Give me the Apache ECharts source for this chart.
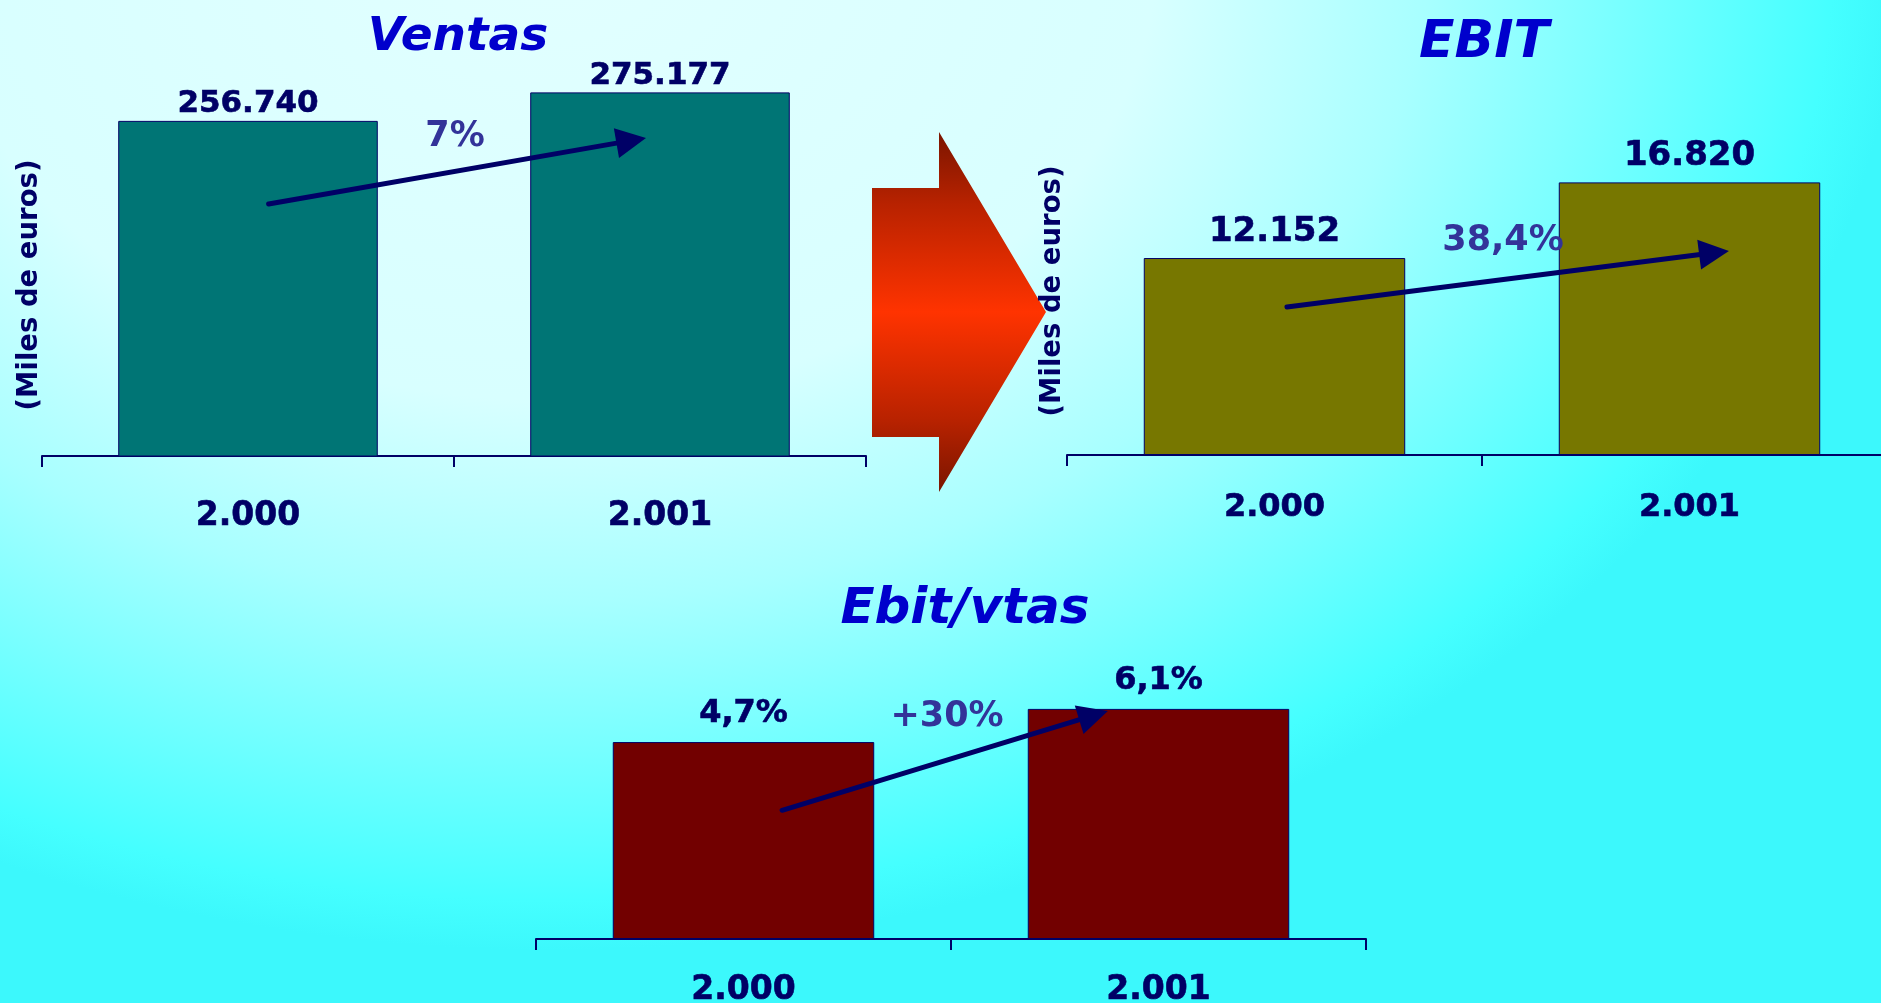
<!DOCTYPE html>
<html><head><meta charset="utf-8">
<script src="https://cdn.jsdelivr.net/npm/echarts@6/dist/echarts.min.js"></script>
<style>
html,body{margin:0;padding:0;width:1881px;height:1003px;overflow:hidden}
#c{width:1881px;height:1003px;background:radial-gradient(ellipse 1350px 1000px at 550px -50px, #E2FFFF 0%, #D8FFFF 45%, #A8FFFF 65%, #70FFFF 82%, #45FFFF 95%, #3CF8FC 100%);}
</style>
</head><body><div id="c"></div>
<script>
// ---- data ----
const categories = ['2.000', '2.001'];
const ventas = [256740, 275177];
const ebit = [12152, 16820];
const ebitVtas = [4.7, 6.1];
const titles = ['Ventas', 'EBIT', 'Ebit/vtas'];
const growthLabels = ['7%', '38,4%', '+30%'];
const yAxisName = '(Miles de euros)';

// ---- formatting / styling ----
const fmtThousands = v => String(v).replace(/\B(?=(\d{3})+(?!\d))/g, '.');
const fmtPct = v => v.toFixed(1).replace('.', ',') + '%';
const FONT = "'DejaVu Sans', Verdana, sans-serif";
const NAVY = '#000066';

const seriesData = [ventas, ebit, ebitVtas];
const formatters = [fmtThousands, fmtThousands, fmtPct];
const grids = [
  {left: 42, top: 54, width: 824, height: 402, outerBoundsMode: 'none', containLabel: false},
  {left: 1067, top: 66, width: 830, height: 389, outerBoundsMode: 'none', containLabel: false},
  {left: 536, top: 646, width: 830, height: 293, outerBoundsMode: 'none', containLabel: false}
];
const yAxes = [
  {type: 'value', min: 40000, max: 300000},
  {type: 'value', min: 0, max: 24000},
  {type: 'log', logBase: 10, min: 1, max: 10}
];
const barColors = ['#007575', '#777700', '#720000'];
const labelSizes = [31, 34, 32];
const labelDist = [1, 9, 12];
const catSizes = [33, 32, 33];
const catMargin = [44, 37, 35];
const titlePos = [[458, 14, 47], [1484, 17, 52], [965, 585, 50]];
const growthPos = [[455, 137], [1503, 241], [947, 717]];
// arrow endpoints: [offset in categories from first category, value on axis]
const arrowFrom = [[0.05, 203000], [0.03, 9130], [0.093, 2.75]];
const arrowTo = [[0.966, 245700], [1.095, 12590], [0.878, 6.0]];

const chart = echarts.init(document.getElementById('c'), null, {renderer: 'canvas'});

const option = {
  backgroundColor: 'transparent',
  animation: false,
  title: titles.map((t, i) => ({
    text: t, left: titlePos[i][0], top: titlePos[i][1], textAlign: 'center', padding: 0,
    textStyle: {color: '#0000CC', fontSize: titlePos[i][2], fontWeight: 'bold', fontStyle: 'italic', fontFamily: FONT}
  })),
  grid: grids,
  xAxis: grids.map((g, i) => ({
    type: 'category', gridIndex: i, data: categories,
    axisLine: {show: true, onZero: false, lineStyle: {color: NAVY, width: 2}},
    axisTick: {show: true, length: 11, lineStyle: {color: NAVY, width: 2}},
    axisLabel: {color: NAVY, fontSize: catSizes[i], fontWeight: 'bold', fontFamily: FONT, margin: catMargin[i],
      textBorderColor: NAVY, textBorderWidth: 0.6},
    splitLine: {show: false}
  })),
  yAxis: yAxes.map((y, i) => Object.assign({gridIndex: i, show: false}, y)),
  series: seriesData.map((d, i) => ({
    type: 'bar', xAxisIndex: i, yAxisIndex: i, data: d, barCategoryGap: '37%',
    itemStyle: {color: barColors[i], borderColor: NAVY, borderWidth: 1},
    label: {
      show: true, position: 'top', distance: labelDist[i], color: NAVY,
      fontSize: labelSizes[i], fontWeight: 'bold', fontFamily: FONT,
      textBorderColor: NAVY, textBorderWidth: 0.6,
      formatter: p => formatters[i](p.value)
    }
  }))
};
chart.setOption(option);

const graphics = [];
// big block arrow between the two top charts
graphics.push({
  type: 'polygon', z: 1,
  shape: {points: [[872, 188], [939, 188], [939, 132], [1046, 312], [939, 492], [939, 437], [872, 437]]},
  style: {fill: {type: 'linear', x: 0, y: 0, x2: 0, y2: 1, colorStops: [
    {offset: 0, color: '#7A1500'}, {offset: 0.2, color: '#B82200'}, {offset: 0.5, color: '#FF3300'},
    {offset: 0.8, color: '#B82200'}, {offset: 1, color: '#7A1500'}]}}
});
// y axis names
[[30, 285], [1053, 291]].forEach(p => graphics.push({
  type: 'text', x: p[0], y: p[1], rotation: Math.PI / 2, z: 10,
  style: {text: yAxisName, fill: NAVY, font: "bold 27.5px 'DejaVu Sans'", align: 'center', verticalAlign: 'middle'}
}));
// growth arrows
for (let i = 0; i < 3; i++) {
  const c0 = chart.convertToPixel({gridIndex: i}, [0, arrowFrom[i][1]]);
  const c1 = chart.convertToPixel({gridIndex: i}, [1, arrowTo[i][1]]);
  const cw = c1[0] - c0[0];
  const S = [c0[0] + arrowFrom[i][0] * cw, c0[1]];
  const T = [c0[0] + arrowTo[i][0] * cw, c1[1]];
  const dx = T[0] - S[0], dy = T[1] - S[1];
  const len = Math.hypot(dx, dy);
  const ux = dx / len, uy = dy / len;
  const hl = 30, hw = 15;
  const B = [T[0] - ux * hl, T[1] - uy * hl];
  graphics.push({
    type: 'line', z: 20,
    shape: {x1: S[0], y1: S[1], x2: B[0] + ux * 3, y2: B[1] + uy * 3},
    style: {stroke: NAVY, lineWidth: 5, lineCap: 'round'}
  });
  graphics.push({
    type: 'polygon', z: 20,
    shape: {points: [T, [B[0] - uy * hw, B[1] + ux * hw], [B[0] + uy * hw, B[1] - ux * hw]]},
    style: {fill: NAVY}
  });
  graphics.push({
    type: 'text', x: growthPos[i][0], y: growthPos[i][1], z: 25,
    style: {text: growthLabels[i], fill: '#333399', font: "bold 35px 'DejaVu Sans'", align: 'center', verticalAlign: 'middle'}
  });
}
chart.setOption({graphic: graphics});
</script>
</body></html>
